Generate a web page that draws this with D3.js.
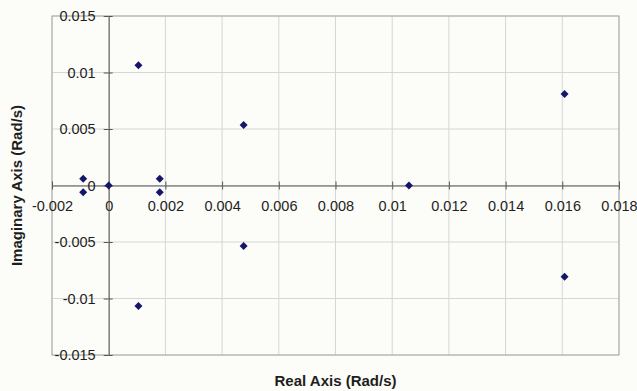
<!DOCTYPE html>
<html>
<head>
<meta charset="utf-8">
<script src="https://cdn.jsdelivr.net/npm/d3@7"></script>
<style>
  body { margin: 0; background: #fcfcf8; }
  svg { display: block; font-family: "Liberation Sans", Arial, sans-serif; }
</style>
</head>
<body>
<svg id="chart" width="637" height="391"></svg>
<script>
// pole locations (real, imaginary) in rad/s
var realParts = [-0.0009, -0.0009, 0, 0.0018, 0.0018, 0.00105, 0.00105, 0.00476, 0.00476, 0.01059, 0.01608, 0.01608];
var imagParts = [0.0006, -0.0006, 0, 0.0006, -0.0006, 0.01065, -0.01066, 0.00535, -0.00535, 0, 0.00809, -0.00808];

var xTicks = [-0.002, 0, 0.002, 0.004, 0.006, 0.008, 0.01, 0.012, 0.014, 0.016, 0.018];
var xTickLabels = ["-0.002", "0", "0.002", "0.004", "0.006", "0.008", "0.01", "0.012", "0.014", "0.016", "0.018"];
var yTicks = [-0.015, -0.01, -0.005, 0, 0.005, 0.01, 0.015];
var yTickLabels = ["-0.015", "-0.01", "-0.005", "0", "0.005", "0.01", "0.015"];

var margin = { left: 52, top: 16 };
var width = 567, height = 339;

var svg = d3.select("#chart");
var g = svg.append("g").attr("transform", "translate(" + margin.left + "," + margin.top + ")");

var x = d3.scaleLinear().domain([-0.002, 0.018]).range([0, width]);
var y = d3.scaleLinear().domain([-0.015, 0.015]).range([height, 0]);

// grid
g.append("g")
  .selectAll("line")
  .data(xTicks)
  .join("line")
  .attr("x1", d => x(d)).attr("x2", d => x(d))
  .attr("y1", 0).attr("y2", height)
  .attr("stroke", "#d6d6d6");

g.append("g")
  .selectAll("line")
  .data(yTicks)
  .join("line")
  .attr("y1", d => y(d)).attr("y2", d => y(d))
  .attr("x1", 0).attr("x2", width)
  .attr("stroke", "#d6d6d6");

// plot border
g.append("rect")
  .attr("width", width).attr("height", height)
  .attr("fill", "none")
  .attr("stroke", "#a8a8a8");

var xFmt = d => xTickLabels[xTicks.indexOf(d)];
var yFmt = d => yTickLabels[yTicks.indexOf(d)];

// x axis on the zero line
var xAxisG = g.append("g")
  .attr("transform", "translate(0," + y(0) + ")")
  .call(d3.axisBottom(x).tickValues(xTicks).tickFormat(xFmt).tickSizeInner(4).tickSizeOuter(0).tickPadding(11));
g.append("g")
  .attr("transform", "translate(0," + y(0) + ")")
  .call(d3.axisBottom(x).tickValues(xTicks).tickFormat("").tickSizeInner(-4).tickSizeOuter(0))
  .select(".domain").remove();

// y axis on the zero line
var yAxisG = g.append("g")
  .attr("transform", "translate(" + x(0) + ",0)")
  .call(d3.axisLeft(y).tickValues(yTicks).tickFormat(yFmt).tickSizeInner(5).tickSizeOuter(0).tickPadding(8));
g.append("g")
  .attr("transform", "translate(" + x(0) + ",0)")
  .call(d3.axisLeft(y).tickValues(yTicks).tickFormat("").tickSizeInner(-4).tickSizeOuter(0))
  .select(".domain").remove();

g.selectAll(".domain, .tick line").attr("stroke", "#555");
[xAxisG, yAxisG].forEach(a => a.selectAll("text")
  .attr("font-size", 14.5)
  .attr("font-family", "Liberation Sans, Arial, sans-serif")
  .attr("fill", "#1e1e1e"));

// points
var pts = realParts.map((r, i) => ({ re: r, im: imagParts[i] }));
g.append("g")
  .selectAll("path")
  .data(pts)
  .join("path")
  .attr("d", d3.symbol().type(d3.symbolSquare).size(32))
  .attr("transform", d => "translate(" + x(d.re) + "," + y(d.im) + ") rotate(45)")
  .attr("fill", "#15156a");

// axis titles
svg.append("text")
  .attr("x", margin.left + x(0.008))
  .attr("y", 386)
  .attr("text-anchor", "middle")
  .attr("font-size", 15)
  .attr("font-weight", "bold")
  .attr("fill", "#1e1e1e")
  .text("Real Axis (Rad/s)");

svg.append("text")
  .attr("transform", "translate(22," + (margin.top + y(0)) + ") rotate(-90)")
  .attr("text-anchor", "middle")
  .attr("font-size", 15)
  .attr("font-weight", "bold")
  .attr("fill", "#1e1e1e")
  .text("Imaginary Axis (Rad/s)");
</script>
</body>
</html>
